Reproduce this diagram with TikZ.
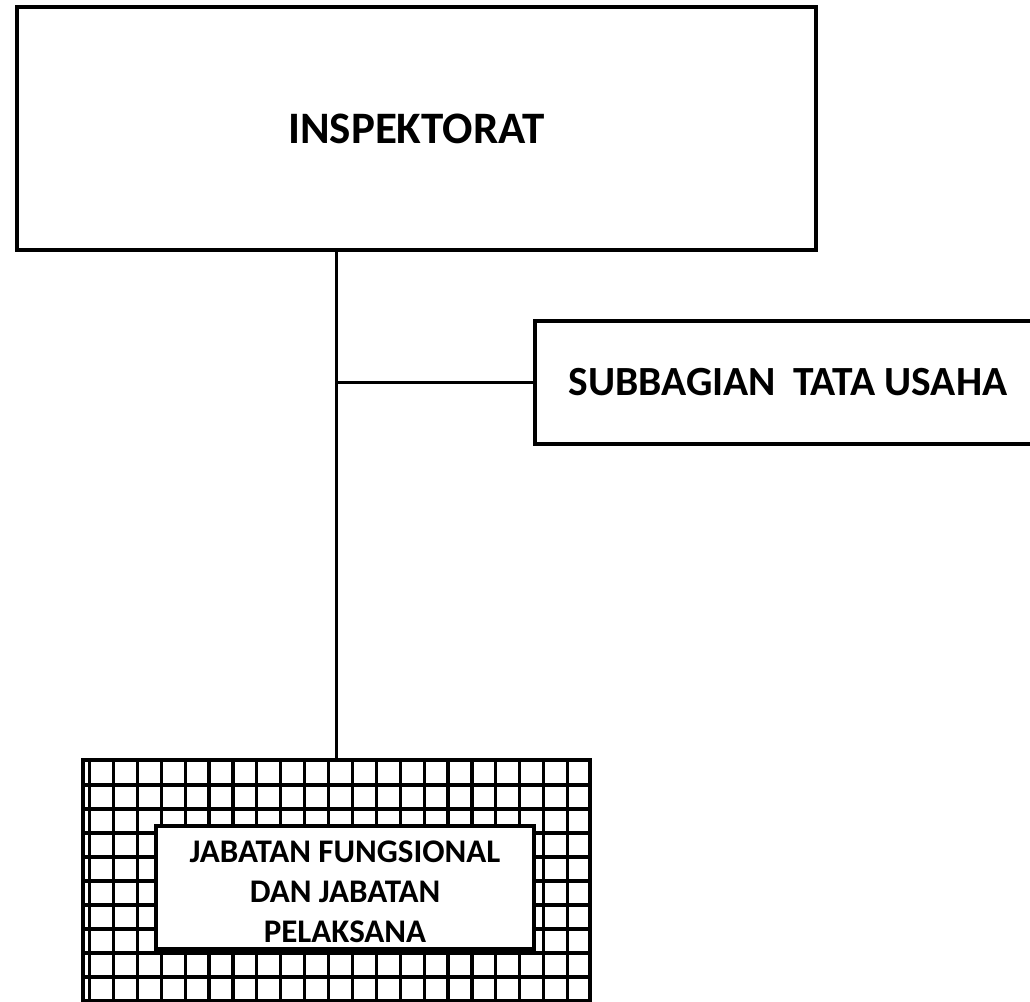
\documentclass[tikz,border=0pt]{standalone}
\usepackage{fontspec}
\setmainfont{Carlito}
\usetikzlibrary{calc}
\begin{document}
\begin{tikzpicture}[x=1pt,y=-1pt,
  unitbox/.style={draw=black, line width=4pt, fill=white, inner sep=0pt,
    font=\bfseries\fontsize{45}{52}\selectfont},
  gridframe/.style={draw=black, line width=4.5pt, inner sep=0pt},
  gridline/.style={draw=black, line width=3.2pt},
  innerbox/.style={draw=black, line width=3.5pt, fill=white, inner sep=0pt},
  innertext/.style={inner sep=0pt, align=center,
    font=\bfseries\fontsize{33}{40}\selectfont},
  conn/.style={draw=black, line width=3.3pt}]
\useasboundingbox (0,0) rectangle (1030,1001);
\clip (0,0) rectangle (1030,1001);

% top unit
\node[unitbox, minimum width=799.5pt, minimum height=243pt] (insp) at (416.25,128.5) {INSPEKTORAT};

% staff unit, running past the right edge
\node[unitbox, font=\bfseries\fontsize{41.5}{50}\selectfont,
  minimum width=507pt, minimum height=123pt] (sub) at (788,382.5)
  {SUBBAGIAN\hspace{8pt} TATA USAHA};

% hatched frame of the functional group
\begin{scope}
  \clip (83,760) rectangle (590,1040);
  \foreach \k in {0,...,20}
    \draw[gridline] (89.5+23.9*\k,760) -- (89.5+23.9*\k,1040);
  \foreach \k in {0,...,9}
    \draw[gridline] (83,785+24*\k) -- (590,785+24*\k);
\end{scope}
\node[gridframe, minimum width=507pt, minimum height=280pt] (jab) at (336.5,900) {};

\node[innerbox, minimum width=378pt, minimum height=123pt] (jf) at (345,887.5) {};
\node[innertext] (jft) at ($(jf.center)+(0,4)$)
  {JABATAN FUNGSIONAL\\DAN JABATAN\\PELAKSANA};

% connectors
\draw[conn] (insp.south -| jab.north) -- (jab.north);
\draw[conn] (sub.west -| jab.north) -- (sub.west);
\end{tikzpicture}
\end{document}
